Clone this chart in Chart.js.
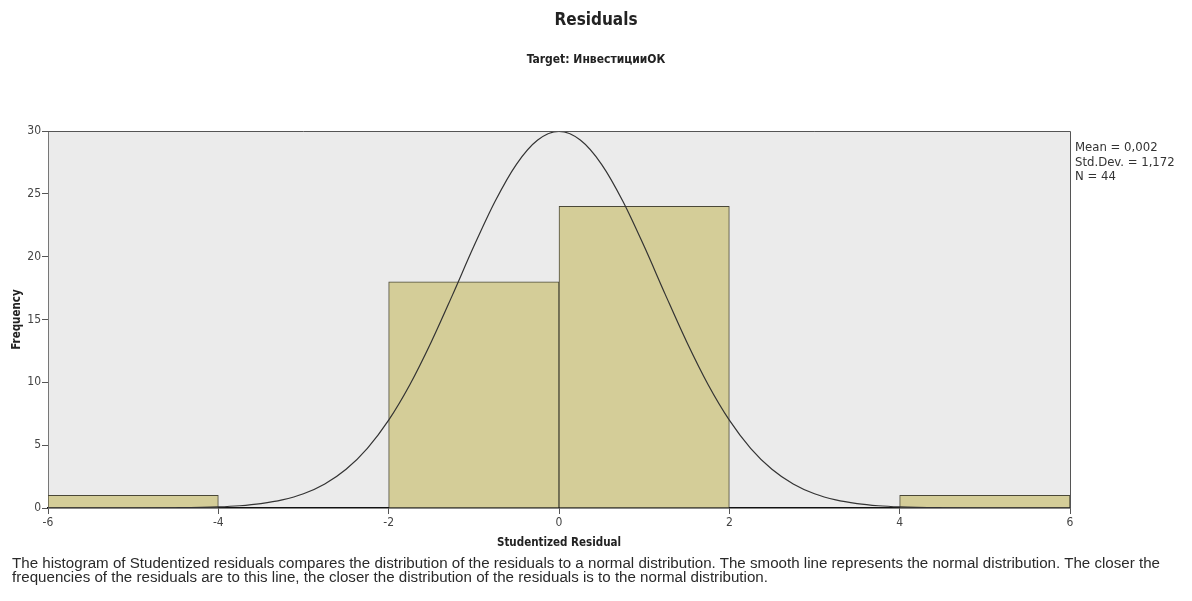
<!DOCTYPE html>
<html>
<head>
<meta charset="utf-8">
<script src="https://cdn.jsdelivr.net/npm/chart.js@4.4.1/dist/chart.umd.min.js"></script>
<style>
    body { margin: 0; background: #fff; width: 1192px; height: 601px; overflow: hidden; position: relative;
           font-family: "DejaVu Sans Condensed", sans-serif; color: #222; }
    #wrap { position: absolute; left: 0; top: 0; width: 1192px; height: 601px; }
    .txt { position: absolute; white-space: nowrap; }
    #title { left: 0; width: 1192px; text-align: center; top: 9px; font-size: 17px; font-weight: bold; }
    #subtitle { left: 0; width: 1192px; text-align: center; top: 52px; font-size: 12px; font-weight: bold; }
    #stats { left: 1075px; top: 140px; font-size: 13px; line-height: 14.5px; color: #333; }
    #note { left: 12px; top: 556px; font-family: "Liberation Sans", Arial, sans-serif; font-size: 14px;
            line-height: 14px; color: #2a2a2a; transform-origin: 0 0; }
</style>
</head>
<body>
<div id="wrap"><canvas id="residChart" width="1192" height="601"></canvas></div>
<div class="txt" id="title">Residuals</div>
<div class="txt" id="subtitle">Target: ИнвестицииОК</div>
<div class="txt" id="stats">Mean = 0,002<br>Std.Dev. = 1,172<br>N = 44</div>
<div class="txt" id="note"><span id="noteLine1">The histogram of Studentized residuals compares the distribution of the residuals to a normal distribution. The smooth line represents the normal distribution. The closer the</span><br>frequencies of the residuals are to this line, the closer the distribution of the residuals is to the normal distribution.</div>

<script>
// histogram bins (centres) and counts
const binCentres = [-5, -3, -1, 1, 3, 5];
const binCounts = [1, 0, 18, 24, 0, 1];

// normal curve
const curveX = [-6, -5, -4.5, -4, -3.75, -3.5, -3.25, -3, -2.75, -2.5, -2.25, -2, -1.75, -1.5, -1.25, -1, -0.75, -0.5, -0.25, 0,
                0.25, 0.5, 0.75, 1, 1.25, 1.5, 1.75, 2, 2.25, 2.5, 2.75, 3, 3.25, 3.5, 3.75, 4, 4.5, 5, 6];
const curveY = [0, 0, 0.02, 0.09, 0.18, 0.35, 0.64, 1.13, 1.91, 3.08, 4.75, 6.99, 9.83, 13.21, 16.96, 20.82, 24.41, 27.35, 29.28, 29.96,
                29.28, 27.35, 24.41, 20.82, 16.96, 13.21, 9.83, 6.99, 4.75, 3.08, 1.91, 1.13, 0.64, 0.35, 0.18, 0.09, 0.02, 0, 0];

// axis ticks
const xTicks = [-6, -4, -2, 0, 2, 4, 6];
const yTicks = [0, 5, 10, 15, 20, 25, 30];

const narrow = '"DejaVu Sans Condensed", sans-serif';

// squeeze the footnote so its first line spans the same width as in the original
const note = document.getElementById('note');
const line1 = document.getElementById('noteLine1');
note.style.transform = 'scaleX(' + (1148 / line1.getBoundingClientRect().width) + ')';

// plot background and the frame on top / right
const plotFrame = {
    id: 'plotFrame',
    beforeDraw(chart) {
        const { ctx, chartArea: a } = chart;
        ctx.save();
        ctx.fillStyle = '#ebebeb';
        ctx.fillRect(a.left, a.top, a.right - a.left, a.bottom - a.top);
        ctx.restore();
    },
    afterDraw(chart) {
        const { ctx, chartArea: a } = chart;
        ctx.save();
        ctx.strokeStyle = '#555';
        ctx.lineWidth = 1;
        ctx.beginPath();
        ctx.moveTo(a.left, a.top + 0.5);
        ctx.lineTo(a.right + 0.5, a.top + 0.5);
        ctx.lineTo(a.right + 0.5, a.bottom);
        ctx.stroke();
        ctx.restore();
    }
};

const ctx = document.getElementById('residChart').getContext('2d');

new Chart(ctx, {
    type: 'bar',
    data: {
        datasets: [
            {
                type: 'line',
                data: curveX.map((x, i) => ({ x: x, y: curveY[i] })),
                borderColor: '#333',
                borderWidth: 1.2,
                pointRadius: 0,
                tension: 0.4,
                cubicInterpolationMode: 'monotone',
                fill: false,
                order: 0
            },
            {
                data: binCentres.map((x, i) => ({ x: x, y: binCounts[i] })),
                backgroundColor: '#d4cd98',
                borderColor: '#4a4838',
                borderWidth: 1,
                barPercentage: 1,
                categoryPercentage: 1,
                order: 1
            }
        ]
    },
    options: {
        responsive: false,
        animation: false,
        layout: { padding: { left: 0, right: 122, top: 131, bottom: 49 } },
        plugins: { legend: { display: false }, tooltip: { enabled: false } },
        scales: {
            x: {
                type: 'linear',
                min: -6,
                max: 6,
                offset: false,
                afterBuildTicks: scale => { scale.ticks = xTicks.map(v => ({ value: v })); },
                afterFit: scale => { scale.height = 44; },
                grid: { drawOnChartArea: false, offset: false, color: '#555', tickLength: 6 },
                border: { color: '#111', width: 1.5 },
                ticks: { color: '#444', font: { family: narrow, size: 12 }, padding: 2 },
                title: { display: true, text: 'Studentized Residual', color: '#222',
                         font: { family: narrow, size: 11.5, weight: 'bold' }, padding: { top: 0, bottom: 2 } }
            },
            y: {
                min: 0,
                max: 30,
                afterBuildTicks: scale => { scale.ticks = yTicks.map(v => ({ value: v })); },
                afterFit: scale => { scale.width = 48; },
                grid: { drawOnChartArea: false, color: '#555', tickLength: 6 },
                border: { color: '#777', width: 1 },
                ticks: { color: '#444', font: { family: narrow, size: 12 }, padding: 1 },
                title: { display: true, text: 'Frequency', color: '#222',
                         font: { family: narrow, size: 11.5, weight: 'bold' }, padding: { top: 10, bottom: 0 } }
            }
        }
    },
    plugins: [plotFrame]
});
</script>
</body>
</html>
